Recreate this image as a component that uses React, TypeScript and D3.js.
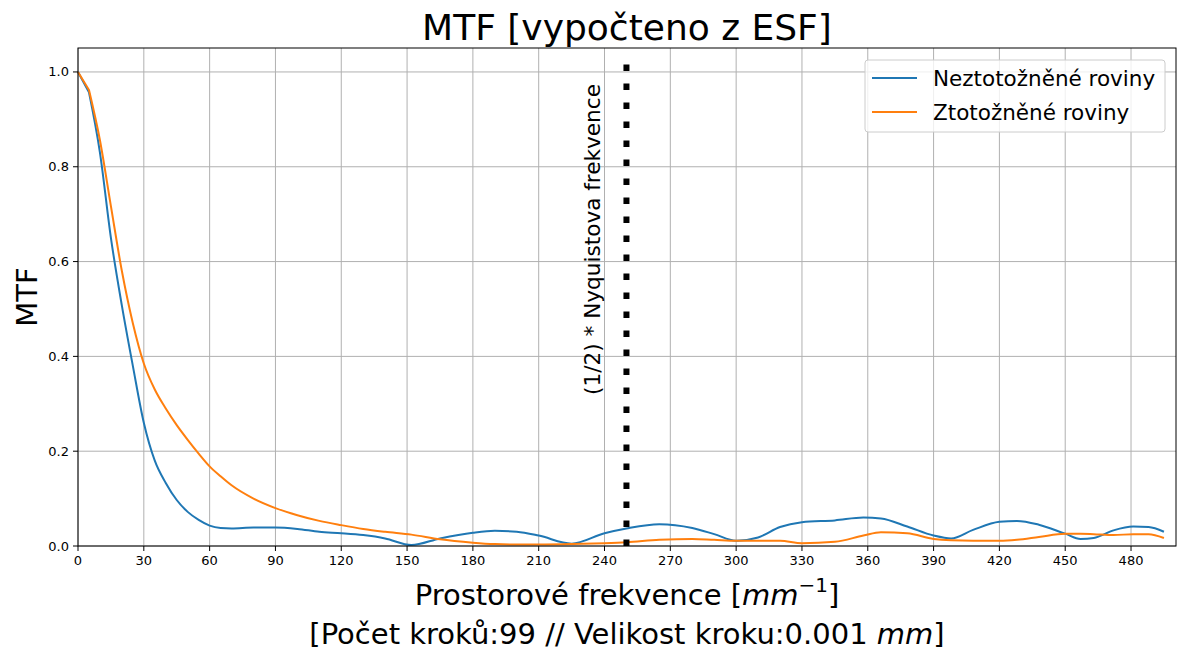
import React, { useEffect, useRef } from 'react';
import * as d3 from 'd3';

// spatial frequency samples [mm^-1]
const freq = [0, 5, 10, 15, 20, 25, 30, 35, 40, 45, 50, 55, 60, 65, 70, 80, 90, 100, 110, 120, 130, 140, 152, 165, 180, 190, 200, 210, 225, 240, 250, 265, 280, 290, 300, 310, 320, 330, 345, 358, 366, 378, 390, 398, 408, 420, 428, 438, 450, 457, 463, 472, 481, 488, 495];

// Neztotožněné roviny
const mtfBlue = [1.0, 0.957, 0.83, 0.65, 0.507, 0.38, 0.26, 0.18, 0.133, 0.097, 0.072, 0.055, 0.043, 0.038, 0.037, 0.039, 0.039, 0.036, 0.03, 0.027, 0.023, 0.016, 0.002, 0.016, 0.028, 0.032, 0.03, 0.022, 0.005, 0.027, 0.037, 0.046, 0.038, 0.025, 0.011, 0.018, 0.04, 0.05, 0.054, 0.06, 0.058, 0.041, 0.022, 0.016, 0.034, 0.051, 0.053, 0.045, 0.026, 0.015, 0.017, 0.033, 0.041, 0.04, 0.03];

// Ztotožněné roviny
const mtfOrange = [1.0, 0.962, 0.856, 0.717, 0.58, 0.47, 0.385, 0.33, 0.29, 0.255, 0.224, 0.195, 0.168, 0.147, 0.128, 0.1, 0.08, 0.065, 0.053, 0.044, 0.036, 0.03, 0.024, 0.014, 0.007, 0.004, 0.003, 0.003, 0.004, 0.006, 0.008, 0.013, 0.015, 0.013, 0.011, 0.011, 0.011, 0.006, 0.009, 0.022, 0.029, 0.027, 0.015, 0.012, 0.011, 0.011, 0.013, 0.019, 0.026, 0.026, 0.025, 0.023, 0.025, 0.025, 0.017];

const xTicks = [0, 30, 60, 90, 120, 150, 180, 210, 240, 270, 300, 330, 360, 390, 420, 450, 480];
const yTicks = [0.0, 0.2, 0.4, 0.6, 0.8, 1.0];
const seriesNames = ['Neztotožněné roviny', 'Ztotožněné roviny'];
const seriesColors = ['#1f77b4', '#ff7f0e'];
const nyquistHalf = 250;

const App = () => {
  const ref = useRef<SVGSVGElement>(null);

  useEffect(() => {
    const width = 1182;
    const height = 650;
    const font = 'DejaVu Sans, sans-serif';
    const left = 78, right = 1176, top = 48, bottom = 546;

    const svg = d3.select(ref.current).attr('width', width).attr('height', height);
    svg.selectAll('*').remove();

    const x = d3.scaleLinear().domain([0, 500.5]).range([left, right]);
    const y = d3.scaleLinear().domain([0, 1.0505]).range([bottom, top]);

    svg.append('rect').attr('width', width).attr('height', height).attr('fill', '#fff');

    // grid
    const grid = svg.append('g').attr('stroke', '#b0b0b0').attr('stroke-width', 1);
    xTicks.forEach(t => {
      grid.append('line').attr('x1', x(t)).attr('x2', x(t)).attr('y1', top).attr('y2', bottom);
    });
    yTicks.forEach(t => {
      grid.append('line').attr('x1', left).attr('x2', right).attr('y1', y(t)).attr('y2', y(t));
    });

    // curves: first step straight (visible kink at the 2nd sample), rest smoothed
    const series = [mtfBlue, mtfOrange];
    const smooth = d3.line<[number, number]>()
      .x(d => x(d[0]))
      .y(d => y(d[1]))
      .curve(d3.curveMonotoneX);
    const straight = d3.line<[number, number]>()
      .x(d => x(d[0]))
      .y(d => y(d[1]));

    series.forEach((vals, i) => {
      const pts = freq.map((f, k) => [f, vals[k]] as [number, number]);
      const d = straight(pts.slice(0, 2)) + (smooth(pts.slice(1)) || '').replace(/^M/, 'L');
      svg.append('path')
        .attr('d', d)
        .attr('fill', 'none')
        .attr('stroke', seriesColors[i])
        .attr('stroke-width', 2)
        .attr('stroke-linejoin', 'round');
    });

    // (1/2) * Nyquist line
    svg.append('line')
      .attr('x1', x(nyquistHalf)).attr('x2', x(nyquistHalf))
      .attr('y1', y(0)).attr('y2', y(1.035))
      .attr('stroke', '#000')
      .attr('stroke-width', 6)
      .attr('stroke-dasharray', '6.5 12.5');

    svg.append('text')
      .attr('transform', `translate(${x(nyquistHalf) - 26}, 395) rotate(-90)`)
      .attr('font-family', font)
      .attr('font-size', 21.6)
      .attr('fill', '#000')
      .text('(1/2) * Nyquistova frekvence');

    // spines
    svg.append('rect')
      .attr('x', left).attr('y', top)
      .attr('width', right - left).attr('height', bottom - top)
      .attr('fill', 'none').attr('stroke', '#000').attr('stroke-width', 1);

    // x ticks
    const xa = svg.append('g');
    xTicks.forEach(t => {
      xa.append('line').attr('x1', x(t)).attr('x2', x(t)).attr('y1', bottom).attr('y2', bottom + 5).attr('stroke', '#000');
      xa.append('text')
        .attr('x', x(t)).attr('y', bottom + 19)
        .attr('text-anchor', 'middle')
        .attr('font-family', font).attr('font-size', 13).attr('fill', '#000')
        .text(String(t));
    });

    // y ticks
    const ya = svg.append('g');
    yTicks.forEach(t => {
      ya.append('line').attr('x1', left - 5).attr('x2', left).attr('y1', y(t)).attr('y2', y(t)).attr('stroke', '#000');
      ya.append('text')
        .attr('x', left - 9).attr('y', y(t) + 4.5)
        .attr('text-anchor', 'end')
        .attr('font-family', font).attr('font-size', 13).attr('fill', '#000')
        .text(t.toFixed(1));
    });

    const cx = (left + right) / 2;

    // title
    svg.append('text')
      .attr('x', cx).attr('y', 40)
      .attr('text-anchor', 'middle')
      .attr('font-family', font).attr('font-size', 36).attr('fill', '#000')
      .text('MTF [vypočteno z ESF]');

    // x label
    const xl = svg.append('text')
      .attr('x', cx).attr('y', 605)
      .attr('text-anchor', 'middle')
      .attr('font-family', font).attr('font-size', 29).attr('fill', '#000');
    xl.append('tspan').text('Prostorové frekvence [');
    xl.append('tspan').attr('font-style', 'italic').text('mm');
    xl.append('tspan').attr('font-size', 20).attr('dy', -13).text('−1');
    xl.append('tspan').attr('dy', 13).text(']');

    const xl2 = svg.append('text')
      .attr('x', cx).attr('y', 644)
      .attr('text-anchor', 'middle')
      .attr('font-family', font).attr('font-size', 29).attr('fill', '#000');
    xl2.append('tspan').text('[Počet kroků:99 // Velikost kroku:0.001 ');
    xl2.append('tspan').attr('font-style', 'italic').text('mm');
    xl2.append('tspan').text(']');

    // y label
    svg.append('text')
      .attr('transform', `translate(37, ${(top + bottom) / 2}) rotate(-90)`)
      .attr('text-anchor', 'middle')
      .attr('font-family', font).attr('font-size', 29).attr('fill', '#000')
      .text('MTF');

    // legend
    const lg = svg.append('g');
    lg.append('rect')
      .attr('x', 865).attr('y', 60).attr('width', 300).attr('height', 72)
      .attr('rx', 3)
      .attr('fill', '#fff').attr('fill-opacity', 0.8)
      .attr('stroke', '#cccccc').attr('stroke-width', 1);
    seriesNames.forEach((name, i) => {
      const ly = 78 + i * 34;
      lg.append('line')
        .attr('x1', 872).attr('x2', 917).attr('y1', ly).attr('y2', ly)
        .attr('stroke', seriesColors[i]).attr('stroke-width', 2);
      lg.append('text')
        .attr('x', 933).attr('y', ly + 8)
        .attr('font-family', font).attr('font-size', 21.5).attr('fill', '#000')
        .text(name);
    });
  }, []);

  return (
    <div style={{ position: 'absolute', left: 0, top: 0 }}>
      <svg ref={ref}></svg>
    </div>
  );
};

export default App;
